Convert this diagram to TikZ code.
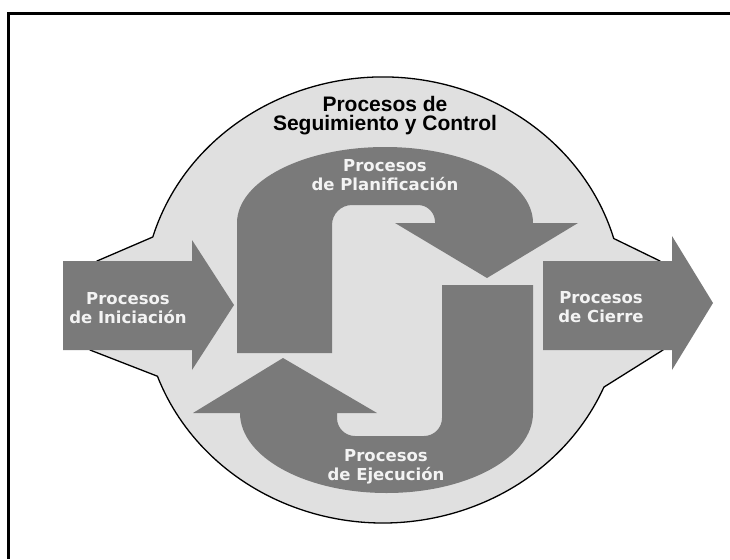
\documentclass[tikz,border=0pt]{standalone}
\usepackage{fontspec}
\usepackage{tikz}
\newfontfamily\ttlfont{Liberation Sans}
\newfontfamily\lblfont{DejaVu Sans}
\definecolor{arrgray}{RGB}{122,122,122}
\definecolor{fillgray}{RGB}{224,224,224}
\definecolor{txtwhite}{RGB}{243,243,243}

\begin{document}
\begin{tikzpicture}[x=1pt,y=-1pt,
    proc/.style={fill=arrgray, draw=none},
    lbl/.style={align=center, anchor=base, inner sep=0pt, text=txtwhite,
      font=\lblfont\bfseries\fontsize{16.5}{19}\selectfont},
    ttl/.style={align=center, anchor=base, inner sep=0pt, text=black,
      font=\ttlfont\bfseries\fontsize{21}{19}\selectfont}]
    \useasboundingbox (0,0) rectangle (730,559);
    \draw[line width=3pt] (8.5,559) -- (8.5,14) -- (730,14);

    \filldraw[fill=fillgray, draw=black, line width=1.3pt, line join=round]
      (152.8,237) arc[start angle=196.4, end angle=344, x radius=240, y radius=223]
      -- (660,261) -- (663,350) -- (603.9,387.1)
      arc[start angle=23, end angle=160, x radius=240, y radius=223]
      -- (90,350) -- (97,261) -- cycle;

    \fill[proc] (63,261) -- (192,261) -- (192,240) -- (234,305) -- (192,370)
      -- (192,350) -- (63,350) -- cycle;
    \fill[proc] (543,261) -- (672,261) -- (672,236) -- (713,303) -- (672,370)
      -- (672,350) -- (543,350) -- cycle;

    \fill[proc] (237,353) -- (237,223)
      arc[start angle=180, end angle=360, x radius=148, y radius=76]
      -- (578,223) -- (487,278) -- (395,223) -- (435,223) -- (435,222)
      arc[start angle=0, end angle=-90, radius=17] -- (352,205)
      arc[start angle=-90, end angle=-180, radius=20] -- (332,353) -- cycle;
    \fill[proc] (442,285) -- (533,285) -- (533,413)
      arc[start angle=0, end angle=180, x radius=146.5, y radius=80]
      -- (193,413) -- (283,358) -- (377,413) -- (337,413) -- (337,418)
      arc[start angle=180, end angle=90, radius=18] -- (424,436)
      arc[start angle=90, end angle=0, radius=18] -- cycle;

    \node[ttl] (ctrl) at (385,131) {Procesos de\\Seguimiento y Control};
    \node[lbl] (plan) at (385,190) {Procesos\\de Planificación};
    \node[lbl] (ejec) at (386,480) {Procesos\\de Ejecución};
    \node[lbl] (ini) at (128,323) {Procesos\\de Iniciación};
    \node[lbl] (cie) at (601,322) {Procesos\\de Cierre};
  \end{tikzpicture}
\end{document}
